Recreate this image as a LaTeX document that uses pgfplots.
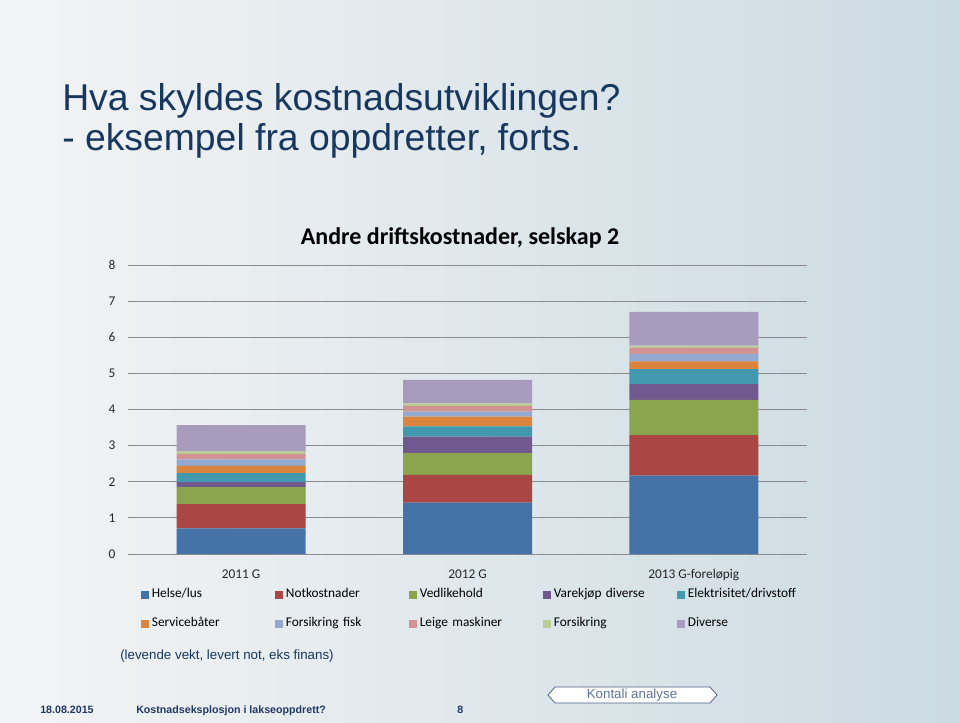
\documentclass[border=0pt]{standalone}
\usepackage{fontspec}
\setmainfont{Carlito}
\newfontfamily\arialfont{Liberation Sans}
\usepackage{pgfplots}
\pgfplotsset{compat=1.18}
\definecolor{bgleft}{HTML}{F3F4F5}
\definecolor{bgright}{HTML}{CBDBE2}
\definecolor{titleblue}{HTML}{17375E}
\definecolor{footblue}{HTML}{1F3864}
\definecolor{gridgray}{HTML}{8C8C8C}
\definecolor{labelgray}{HTML}{262626}
\definecolor{c1}{HTML}{4572A7}
\definecolor{c2}{HTML}{AA4643}
\definecolor{c3}{HTML}{89A54E}
\definecolor{c4}{HTML}{71588F}
\definecolor{c5}{HTML}{4198AF}
\definecolor{c6}{HTML}{DB843D}
\definecolor{c7}{HTML}{93A9CF}
\definecolor{c8}{HTML}{D19392}
\definecolor{c9}{HTML}{B9CD96}
\definecolor{c10}{HTML}{A99BBD}
\begin{document}
\begin{tikzpicture}[x=0.75pt,y=-0.75pt]
\shade[left color=bgleft, right color=bgright] (0,0) rectangle (960,722);
\useasboundingbox (0,0) rectangle (960,722);
\node[anchor=base west, inner sep=0, text=titleblue, font=\arialfont\fontsize{28}{34}\selectfont] at (62,110) {Hva skyldes kostnadsutviklingen?};
\node[anchor=base west, inner sep=0, text=titleblue, font=\arialfont\fontsize{28}{34}\selectfont] at (62,150) {- eksempel fra oppdretter, forts.};
\node[anchor=base, inner sep=0, font=\bfseries\fontsize{18}{22}\selectfont] at (460,244) {Andre driftskostnader, selskap 2};
\coordinate (sw) at (128,554);
\begin{axis}[
  at={(sw)}, anchor=south west, scale only axis,
  width=509.25pt, height=216.75pt,
  ybar stacked, bar width=96.75pt,
  xmin=-0.5, xmax=2.5, ymin=0, ymax=8,
  ytick={0,1,...,8}, xtick={0,1,2},
  xticklabels={2011 G, 2012 G, 2013 G-foreløpig},
  ymajorgrids, grid style={draw=gridgray, line width=0.75pt},
  axis line style={draw=none}, major tick length=0pt,
  tick label style={font=\fontsize{10}{12}\selectfont, text=labelgray},
  /pgf/number format/assume math mode=true,
  yticklabel style={xshift=-6pt},
  xticklabel style={yshift=-8pt, text height=7pt, text depth=2pt},
  every axis plot/.append style={draw=none},
  legend columns=5,
  legend image code/.code={\fill[#1] (0pt,-3pt) rectangle (6pt,3pt);},
  legend style={at={(axis description cs:0.0132,-0.10)}, anchor=north west,
    draw=none, fill=none, font=\fontsize{10}{12}\selectfont, row sep=8.75pt,
    nodes={inner sep=2pt, text width=90.5pt, align=left, text height=7pt, text depth=2pt}},
]
\addplot[fill=c1] coordinates {(0,0.71) (1,1.42) (2,2.17)};
\addplot[fill=c2] coordinates {(0,0.67) (1,0.77) (2,1.12)};
\addplot[fill=c3] coordinates {(0,0.47) (1,0.60) (2,0.98)};
\addplot[fill=c4] coordinates {(0,0.14) (1,0.46) (2,0.43)};
\addplot[fill=c5] coordinates {(0,0.25) (1,0.28) (2,0.42)};
\addplot[fill=c6] coordinates {(0,0.20) (1,0.27) (2,0.21)};
\addplot[fill=c7] coordinates {(0,0.18) (1,0.14) (2,0.21)};
\addplot[fill=c8] coordinates {(0,0.15) (1,0.16) (2,0.17)};
\addplot[fill=c9] coordinates {(0,0.08) (1,0.07) (2,0.06)};
\addplot[fill=c10] coordinates {(0,0.72) (1,0.65) (2,0.93)};
\legend{Helse/lus, Notkostnader, Vedlikehold, Varekjøp diverse, Elektrisitet/drivstoff, Servicebåter, Forsikring fisk, Leige maskiner, Forsikring, Diverse}
\end{axis}
\node[anchor=west, inner sep=0, text=titleblue, font=\arialfont\fontsize{10}{12}\selectfont] at (120,656) {(levende vekt, levert not, eks finans)};
\node[anchor=base west, inner sep=0, text=footblue, font=\arialfont\bfseries\fontsize{8}{10}\selectfont] at (40,713) {18.08.2015};
\node[anchor=base west, inner sep=0, text=footblue, font=\arialfont\bfseries\fontsize{8}{10}\selectfont] at (136,713) {Kostnadseksplosjon i lakseoppdrett?};
\node[anchor=base west, inner sep=0, text=footblue, font=\arialfont\bfseries\fontsize{8}{10}\selectfont] at (457,713) {8};
\filldraw[fill=white, draw=footblue!80, line width=0.6pt] (548,695) -- (555,687) -- (710,687) -- (717,695) -- (710,703) -- (555,703) -- cycle;
\node[inner sep=0, text=footblue!70!white, font=\arialfont\fontsize{10}{10}\selectfont] at (632,695) {Kontali analyse};
\end{tikzpicture}
\end{document}
